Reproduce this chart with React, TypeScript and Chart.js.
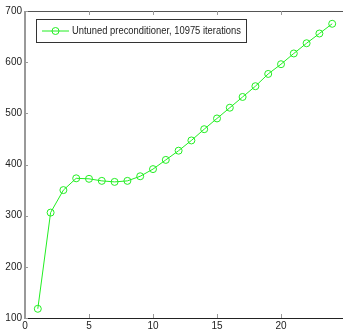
import React, { useEffect, useRef } from "react";
import { Chart, registerables } from "chart.js";

Chart.register(...registerables);

const xValues = [1, 2, 3, 4, 5, 6, 7, 8, 9, 10, 11, 12, 13, 14, 15, 16, 17, 18, 19, 20, 21, 22, 23, 24];
const yValues = [118, 306, 350, 373, 372, 368, 366, 368, 377, 391, 409, 427, 447, 469, 490, 511, 532, 553, 577, 596, 617, 637, 656, 675];
const seriesLabel = "Untuned preconditioner, 10975 iterations";
const xTicks = [0, 5, 10, 15, 20];
const yTicks = [100, 200, 300, 400, 500, 600, 700];

const LINE_COLOR = "#22ee22";

const framePlugin = {
  id: "frame",
  afterDraw(chart: any) {
    const { ctx, chartArea } = chart;
    const { left, right, top, bottom } = chartArea;
    const xs = chart.scales.x;
    const ys = chart.scales.y;
    ctx.save();
    // top border
    ctx.strokeStyle = "#555";
    ctx.lineWidth = 1;
    ctx.beginPath();
    ctx.moveTo(left, Math.round(top) + 0.5);
    ctx.lineTo(right, Math.round(top) + 0.5);
    ctx.stroke();
    // bottom border
    ctx.strokeStyle = "#222";
    ctx.beginPath();
    ctx.moveTo(left, Math.round(bottom) + 0.5);
    ctx.lineTo(right, Math.round(bottom) + 0.5);
    ctx.stroke();
    // left border
    ctx.strokeStyle = "#999";
    ctx.lineWidth = 2;
    ctx.beginPath();
    ctx.moveTo(Math.round(left), top);
    ctx.lineTo(Math.round(left), bottom + 1);
    ctx.stroke();
    // inner ticks
    ctx.strokeStyle = "#999";
    ctx.lineWidth = 1;
    xTicks.forEach((v) => {
      if (v === 0) return;
      const px = Math.round(xs.getPixelForValue(v)) + 0.5;
      ctx.beginPath();
      ctx.moveTo(px, bottom);
      ctx.lineTo(px, bottom - 4);
      ctx.moveTo(px, top);
      ctx.lineTo(px, top + 4);
      ctx.stroke();
    });
    yTicks.forEach((v) => {
      const py = Math.round(ys.getPixelForValue(v)) + 0.5;
      ctx.beginPath();
      ctx.moveTo(left, py);
      ctx.lineTo(left + 3, py);
      ctx.stroke();
    });
    // legend
    const bx = 36.5, by = 19.5, bw = 210, bh = 23;
    ctx.fillStyle = "#fff";
    ctx.fillRect(bx, by, bw, bh);
    ctx.strokeStyle = "#333";
    ctx.lineWidth = 1;
    ctx.strokeRect(bx, by, bw, bh);
    const ly = 31;
    ctx.strokeStyle = LINE_COLOR;
    ctx.beginPath();
    ctx.moveTo(42, ly);
    ctx.lineTo(69, ly);
    ctx.stroke();
    ctx.beginPath();
    ctx.arc(55.5, ly, 3.5, 0, Math.PI * 2);
    ctx.stroke();
    ctx.fillStyle = "#222";
    ctx.font = '10.5px "Liberation Sans", Arial, sans-serif';
    ctx.textBaseline = "middle";
    ctx.textAlign = "left";
    ctx.fillText(seriesLabel, 72, ly + 0.5, 169);
    ctx.restore();
  },
};

export default function App() {
  const ref = useRef<HTMLCanvasElement | null>(null);
  useEffect(() => {
    if (!ref.current) return;
    const chart = new Chart(ref.current, {
      type: "line",
      data: {
        datasets: [
          {
            label: seriesLabel,
            data: xValues.map((x, i) => ({ x, y: yValues[i] })),
            borderColor: LINE_COLOR,
            backgroundColor: "transparent",
            borderWidth: 1,
            pointRadius: 3.5,
            pointBorderWidth: 1,
            pointBorderColor: LINE_COLOR,
            pointBackgroundColor: "transparent",
            tension: 0,
          },
        ],
      },
      options: {
        responsive: false,
        animation: false,
        devicePixelRatio: 1,
        layout: { padding: { top: 11, right: 2, left: 0, bottom: 0 } },
        plugins: {
          legend: { display: false },
          tooltip: { enabled: false },
        },
        scales: {
          x: {
            type: "linear",
            min: 0,
            max: 25,
            afterBuildTicks: (scale: any) => {
              scale.ticks = xTicks.map((v) => ({ value: v }));
            },
            afterFit: (scale: any) => {
              scale.height = 14;
            },
            grid: { display: false, drawTicks: false },
            border: { display: false },
            ticks: {
              padding: 2,
              color: "#222",
              font: { family: '"Liberation Sans", Arial, sans-serif', size: 10 },
              maxRotation: 0,
              autoSkip: false,
            },
          },
          y: {
            type: "linear",
            min: 100,
            max: 700,
            afterBuildTicks: (scale: any) => {
              scale.ticks = yTicks.map((v) => ({ value: v }));
            },
            afterFit: (scale: any) => {
              scale.width = 25;
            },
            grid: { display: false, drawTicks: false },
            border: { display: false },
            ticks: {
              padding: 3,
              color: "#222",
              font: { family: '"Liberation Sans", Arial, sans-serif', size: 10 },
              autoSkip: false,
            },
          },
        },
      },
      plugins: [framePlugin],
    });
    return () => chart.destroy();
  }, []);
  return (
    <div style={{ position: "absolute", left: 0, top: 0, width: 343, height: 332, overflow: "hidden", background: "#fff" }}>
      <canvas ref={ref} width={350} height={332} style={{ display: "block" }} />
    </div>
  );
}
